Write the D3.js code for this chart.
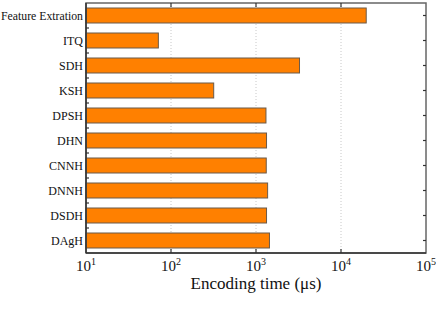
<!DOCTYPE html>
<html>
<head>
<meta charset="utf-8">
<script src="https://cdn.jsdelivr.net/npm/d3@7"></script>
<style>
  body { margin: 0; background: #fff; }
  text { font-family: "Liberation Serif", "DejaVu Serif", serif; fill: #111; }
</style>
</head>
<body>
<svg id="chart"></svg>
<script>
const methods = ["Feature Extration", "ITQ", "SDH", "KSH", "DPSH", "DHN", "CNNH", "DNNH", "DSDH", "DAgH"];
const encodingTimes = [19800, 71, 3250, 318, 1310, 1330, 1320, 1370, 1330, 1440];
const tickExps = [1, 2, 3, 4, 5];

const width = 436, height = 311;
const margin = { top: 3, right: 10, bottom: 58, left: 86 };
const w = width - margin.left - margin.right;
const h = height - margin.top - margin.bottom;

const svg = d3.select("#chart").attr("width", width).attr("height", height);
const g = svg.append("g").attr("transform", `translate(${margin.left},${margin.top})`);

const x = d3.scaleLog().domain([10, 100000]).range([0, w]);
const y = d3.scaleBand().domain(methods).range([0, h]).paddingInner(0.4).paddingOuter(0.2);

// dotted grid lines at inner decades
g.selectAll("line.grid")
  .data(tickExps.slice(1, -1))
  .join("line")
  .attr("class", "grid")
  .attr("x1", d => x(Math.pow(10, d))).attr("x2", d => x(Math.pow(10, d)))
  .attr("y1", 0).attr("y2", h)
  .attr("stroke", "#c8c8c8")
  .attr("stroke-width", 1)
  .attr("stroke-dasharray", "1,2");

// bars
g.selectAll("rect.bar")
  .data(methods)
  .join("rect")
  .attr("class", "bar")
  .attr("x", 0)
  .attr("y", d => y(d))
  .attr("width", (d, i) => x(encodingTimes[i]))
  .attr("height", y.bandwidth())
  .attr("fill", "#ff8000")
  .attr("stroke", "#6a5a4a")
  .attr("stroke-width", 1);

// frame
g.append("rect")
  .attr("x", 0).attr("y", 0).attr("width", w).attr("height", h)
  .attr("fill", "none").attr("stroke", "#666").attr("stroke-width", 1.5);
g.append("line").attr("x1", 0).attr("x2", w).attr("y1", h).attr("y2", h)
  .attr("stroke", "#333").attr("stroke-width", 1.5);
g.append("line").attr("x1", 0).attr("x2", 0).attr("y1", 0).attr("y2", h)
  .attr("stroke", "#333").attr("stroke-width", 1.5);

// x ticks top & bottom (inward)
const xt = tickExps.slice(1, -1);
g.selectAll("line.xtb").data(xt).join("line")
  .attr("x1", d => x(Math.pow(10, d))).attr("x2", d => x(Math.pow(10, d)))
  .attr("y1", h).attr("y2", h - 4).attr("stroke", "#333").attr("stroke-width", 1.2);
g.selectAll("line.xtt").data(xt).join("line")
  .attr("x1", d => x(Math.pow(10, d))).attr("x2", d => x(Math.pow(10, d)))
  .attr("y1", 0).attr("y2", 4).attr("stroke", "#333").attr("stroke-width", 1.2);

// y ticks: left at band boundaries, right at band centres
const step = y.step();
g.selectAll("line.ytl").data(d3.range(1, methods.length)).join("line")
  .attr("x1", 0).attr("x2", 3)
  .attr("y1", d => d * step).attr("y2", d => d * step)
  .attr("stroke", "#333").attr("stroke-width", 1.2);
g.selectAll("line.ytr").data(methods).join("line")
  .attr("x1", w).attr("x2", w - 3)
  .attr("y1", d => y(d) + y.bandwidth() / 2).attr("y2", d => y(d) + y.bandwidth() / 2)
  .attr("stroke", "#333").attr("stroke-width", 1.2);

// x tick labels 10^n
const xl = g.selectAll("text.xl").data(tickExps).join("text")
  .attr("class", "xl")
  .attr("x", d => x(Math.pow(10, d)))
  .attr("y", h + 18)
  .attr("text-anchor", "middle")
  .style("font-size", "15px");
xl.append("tspan").text("10");
xl.append("tspan").attr("dy", -6).style("font-size", "10px").text(d => d);

// y labels
g.selectAll("text.yl").data(methods).join("text")
  .attr("class", "yl")
  .attr("x", -3)
  .attr("y", d => y(d) + y.bandwidth() / 2)
  .attr("dy", "0.35em")
  .attr("text-anchor", "end")
  .style("font-size", "12px")
  .text(d => d)
  .each(function () {
    // squeeze long labels so they fit in the left margin
    if (this.getComputedTextLength() > margin.left - 4) {
      d3.select(this).attr("textLength", margin.left - 4).attr("lengthAdjust", "spacingAndGlyphs");
    }
  });

// axis title
g.append("text")
  .attr("x", w / 2)
  .attr("y", h + 36)
  .attr("text-anchor", "middle")
  .style("font-size", "17px")
  .text("Encoding time (μs)");
</script>
</body>
</html>
